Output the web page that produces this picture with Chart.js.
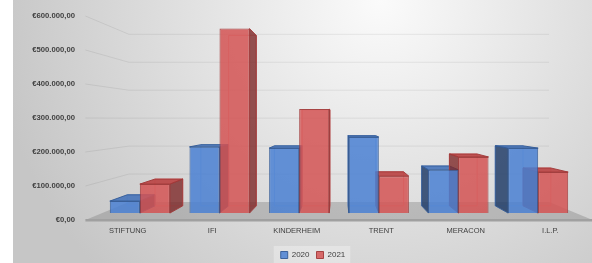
<!DOCTYPE html>
<html>
<head>
<meta charset="utf-8">
<script src="https://cdn.jsdelivr.net/npm/chart.js@4.4.1/dist/chart.umd.min.js"></script>
<style>
  html, body { margin: 0; padding: 0; background: #fff; }
  #c { display: block; }
</style>
</head>
<body>
<canvas id="c" width="592" height="263"></canvas>
<script>
var categories = ['STIFTUNG', 'IFI', 'KINDERHEIM', 'TRENT', 'MERACON', 'I.L.P.'];
var values2020 = [38000, 210000, 206000, 241000, 137000, 206000];
var values2021 = [92000, 585000, 330000, 117000, 178000, 130000];
var tickLabels = ['€0,00', '€100.000,00', '€200.000,00', '€300.000,00', '€400.000,00', '€500.000,00', '€600.000,00'];

// excel style 3d look: front edge wider, back wall narrower
var FRONT_K = 1.061, BACK_K = 0.879, FLOOR_DEPTH = 18, BACK_SCALE = 0.822, BAR_DEPTH = 0.076;

var background = {
    id: 'background',
    beforeDraw: function (chart) {
        var ctx = chart.ctx, w = chart.width, h = chart.height;
        ctx.save();
        ctx.fillStyle = '#fff';
        ctx.fillRect(0, 0, w, h);
        var g = ctx.createRadialGradient(380, 0, 0, 380, 0, 390);
        g.addColorStop(0, '#fbfbfb');
        g.addColorStop(1, '#c6c6c6');
        ctx.fillStyle = g;
        ctx.fillRect(13, 0, w - 13, h);
        var lg = chart.legend;
        if (lg && lg.legendHitBoxes && lg.legendHitBoxes.length) {
            var hb = lg.legendHitBoxes, a = hb[0], b = hb[hb.length - 1];
            ctx.fillStyle = 'rgba(255,255,255,0.3)';
            ctx.fillRect(a.left - 7, a.top - 5, b.left + b.width - a.left + 12, h - a.top + 5);
        }
        ctx.restore();
    }
};

var depth = {
    id: 'depth',
    beforeDatasetsDraw: function (chart) {
        var ctx = chart.ctx, a = chart.chartArea, y = chart.scales.y;
        var mid = (a.left + a.right) / 2, half = (a.right - a.left) / 2;
        var frontL = mid - half * FRONT_K, frontR = mid + half * FRONT_K;
        var backL = mid - half * BACK_K, backR = mid + half * BACK_K;
        var backBase = a.bottom - FLOOR_DEPTH;

        ctx.save();
        // gridlines on side wall and back wall
        ctx.strokeStyle = 'rgba(0,0,0,0.07)';
        ctx.lineWidth = 1;
        y.ticks.forEach(function (t) {
            if (t.value === 0) return;
            var yf = y.getPixelForValue(t.value);
            var yb = backBase - (a.bottom - yf) * BACK_SCALE;
            ctx.beginPath();
            ctx.moveTo(frontL, yf);
            ctx.lineTo(backL, yb);
            ctx.lineTo(backR, yb);
            ctx.stroke();
        });

        // floor
        ctx.fillStyle = 'rgba(130,130,130,0.4)';
        ctx.beginPath();
        ctx.moveTo(frontL, a.bottom);
        ctx.lineTo(backL, backBase);
        ctx.lineTo(backR, backBase);
        ctx.lineTo(frontR, a.bottom);
        ctx.closePath();
        ctx.fill();
        ctx.fillStyle = '#a0a0a0';
        ctx.fillRect(frontL, a.bottom - 1, frontR - frontL, 2.5);

        // bar sides and tops
        var vx = mid, vy = (a.top + a.bottom) / 2;
        function P(px, py) { return [px + (vx - px) * BAR_DEPTH, py + (vy - py) * BAR_DEPTH]; }
        function poly(pts, fill, stroke) {
            ctx.beginPath();
            ctx.moveTo(pts[0][0], pts[0][1]);
            for (var k = 1; k < pts.length; k++) ctx.lineTo(pts[k][0], pts[k][1]);
            ctx.closePath();
            if (fill) { ctx.fillStyle = fill; ctx.fill(); }
            if (stroke) { ctx.strokeStyle = stroke; ctx.stroke(); }
        }
        chart.data.datasets.forEach(function (ds, di) {
            var meta = chart.getDatasetMeta(di);
            meta.data.forEach(function (bar) {
                var p = bar.getProps(['x', 'y', 'base', 'width'], true);
                var l = p.x - p.width / 2, r = p.x + p.width / 2, top = p.y, bot = p.base;
                // back edges seen through the glass
                poly([P(l, top), P(r, top), P(r, bot), P(l, bot)], null, ds.edgeColor);
                if (r < vx) {
                    poly([[r, top], P(r, top), P(r, bot), [r, bot]], ds.sideColor, ds.borderColor);
                } else if (l > vx) {
                    poly([[l, top], P(l, top), P(l, bot), [l, bot]], ds.sideColor, ds.borderColor);
                }
                if (top > vy) {
                    poly([[l, top], [r, top], P(r, top), P(l, top)], ds.topColor, ds.borderColor);
                }
            });
        });
        ctx.restore();
    }
};

var xLabels = {
    id: 'xLabels',
    afterDraw: function (chart) {
        var ctx = chart.ctx, a = chart.chartArea, x = chart.scales.x;
        var mid = (a.left + a.right) / 2;
        ctx.save();
        ctx.font = '7.5px "Liberation Sans"';
        ctx.fillStyle = '#404040';
        ctx.textAlign = 'center';
        ctx.textBaseline = 'middle';
        categories.forEach(function (c, i) {
            var px = x.getPixelForValue(i);
            ctx.fillText(c, mid + (px - mid) * FRONT_K, a.bottom + 11);
        });
        ctx.restore();
    }
};

Chart.defaults.font.family = '"Liberation Sans", Arial, sans-serif';
Chart.defaults.color = '#404040';

new Chart(document.getElementById('c'), {
    type: 'bar',
    data: {
        labels: categories,
        datasets: [{
            label: '2020',
            data: values2020,
            yAxisID: 'yb',
            backgroundColor: 'rgba(74,128,210,0.85)',
            borderColor: 'rgba(50,90,150,0.9)',
            sideColor: 'rgba(35,62,105,0.85)',
            topColor: 'rgba(70,115,185,0.9)',
            edgeColor: 'rgba(140,175,225,0.7)',
            borderWidth: 1
        }, {
            label: '2021',
            data: values2021,
            yAxisID: 'yb',
            backgroundColor: 'rgba(212,84,84,0.85)',
            borderColor: 'rgba(160,55,55,0.9)',
            sideColor: 'rgba(125,40,40,0.8)',
            topColor: 'rgba(185,65,65,0.9)',
            edgeColor: 'rgba(235,140,140,0.7)',
            borderWidth: 1
        }]
    },
    options: {
        responsive: false,
        animation: false,
        devicePixelRatio: 1,
        layout: { padding: { left: 20, right: -14, top: 16, bottom: -6 } },
        categoryPercentage: 0.754,
        barPercentage: 1.0,
        plugins: {
            legend: {
                position: 'bottom',
                labels: { boxWidth: 7, boxHeight: 7, padding: 7, font: { size: 8 }, color: '#404040' }
            },
            tooltip: { enabled: false },
            title: { display: false }
        },
        scales: {
            x: {
                grid: { display: false },
                border: { display: false },
                ticks: { display: false },
                afterFit: function (s) { s.height = 24; }
            },
            y: {
                position: 'left',
                min: 0,
                max: 600000,
                grid: { display: false, drawTicks: false },
                border: { display: false },
                ticks: {
                    stepSize: 100000,
                    padding: 25,
                    font: { size: 7.7, weight: 'bold' },
                    color: '#404040',
                    callback: function (v, i) { return tickLabels[i]; }
                },
                afterFit: function (s) {
                    s.width = 80;
                    // tick padding is horizontal here, keep it out of the vertical layout
                    s.paddingTop = 5;
                    s.paddingBottom = 5;
                }
            },
            yb: {
                position: 'right',
                min: -22000,
                max: 625000,
                grid: { display: false, drawTicks: false },
                border: { display: false },
                ticks: { display: false },
                afterFit: function (s) { s.width = 28; }
            }
        }
    },
    plugins: [background, depth, xLabels]
});
</script>
</body>
</html>
